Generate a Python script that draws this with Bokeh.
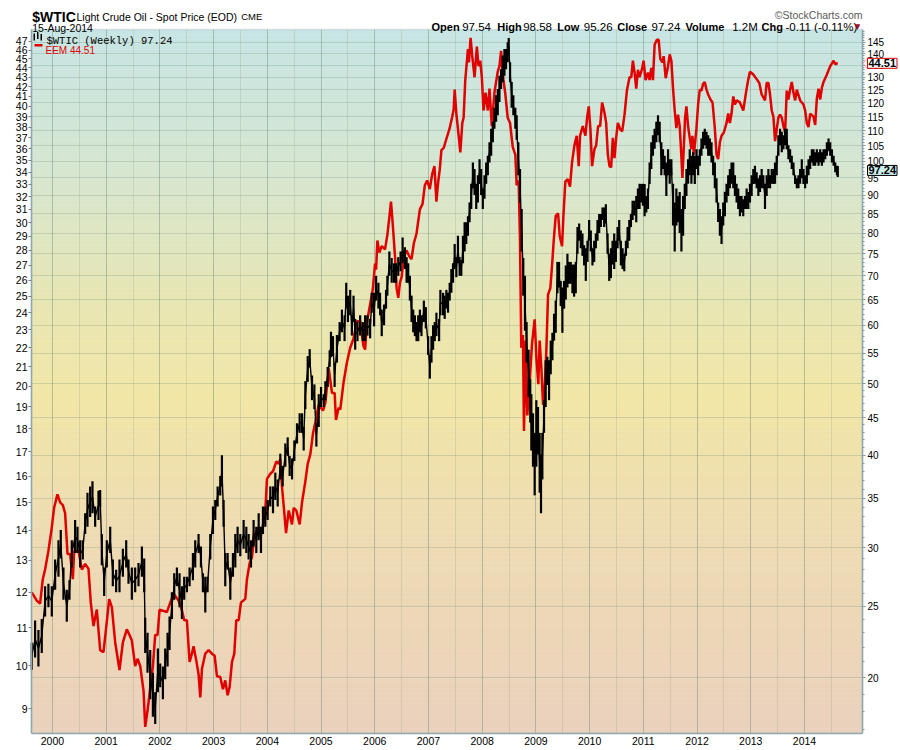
import numpy as np
from bokeh.plotting import figure
from bokeh.models import (Range1d, LogScale, LogAxis, FixedTicker, PrintfTickFormatter,
                          Label, Grid, BoxAnnotation, PolyAnnotation)
from bokeh.embed import file_html
from bokeh.resources import INLINE

# ---------------- data ----------------
# EEM (left axis, red line): decimal year, value
eem_t = [
    1999.615, 1999.708, 1999.770, 1999.820, 1999.863, 1999.925, 1999.988,
    2000.031, 2000.093, 2000.143, 2000.193, 2000.236, 2000.280, 2000.329, 2000.379, 2000.404, 2000.484, 2000.547, 2000.609, 2000.671, 2000.714, 2000.764, 2000.826, 2000.888, 2000.950,
    2001.000, 2001.056, 2001.106, 2001.168, 2001.248, 2001.311, 2001.385, 2001.435, 2001.478, 2001.540, 2001.584, 2001.634, 2001.696, 2001.727, 2001.770, 2001.807, 2001.870, 2001.913, 2001.957, 2001.994,
    2002.130, 2002.193, 2002.255, 2002.348, 2002.410, 2002.453, 2002.503, 2002.553, 2002.596, 2002.627, 2002.677, 2002.720, 2002.752, 2002.783, 2002.845, 2002.907, 2002.969,
    2003.019, 2003.062, 2003.124, 2003.174, 2003.217, 2003.261, 2003.298, 2003.342, 2003.385, 2003.422, 2003.466, 2003.509, 2003.590, 2003.621, 2003.671, 2003.714, 2003.758, 2003.839, 2003.901, 2003.963, 2003.994,
    2004.056, 2004.106, 2004.168, 2004.211, 2004.242, 2004.273, 2004.317, 2004.348, 2004.398, 2004.460, 2004.491, 2004.540, 2004.602, 2004.646, 2004.708, 2004.752, 2004.801, 2004.851, 2004.894, 2004.957,
    2005.037, 2005.081, 2005.143, 2005.204, 2005.253, 2005.278, 2005.327, 2005.358, 2005.420, 2005.481, 2005.543, 2005.605, 2005.667, 2005.728, 2005.790, 2005.821, 2005.852, 2005.914, 2005.963,
    2006.006, 2006.025, 2006.049, 2006.086, 2006.130, 2006.191, 2006.235, 2006.272, 2006.302, 2006.333, 2006.377, 2006.407, 2006.438, 2006.469, 2006.500, 2006.543, 2006.593, 2006.642, 2006.685, 2006.728, 2006.778, 2006.840, 2006.889, 2006.932, 2006.975,
    2007.025, 2007.068, 2007.111, 2007.148, 2007.179, 2007.210, 2007.241, 2007.284, 2007.333, 2007.395, 2007.438, 2007.469, 2007.488, 2007.519, 2007.562, 2007.593, 2007.630, 2007.654, 2007.685, 2007.735, 2007.753, 2007.784, 2007.815, 2007.858, 2007.901, 2007.932, 2007.963, 2007.994,
    2008.025, 2008.062, 2008.105, 2008.136, 2008.179, 2008.228, 2008.290, 2008.321, 2008.352, 2008.370, 2008.395, 2008.432, 2008.475, 2008.519, 2008.568, 2008.617, 2008.642, 2008.679, 2008.704, 2008.728, 2008.759, 2008.778, 2008.809, 2008.840, 2008.884, 2008.927, 2008.977,
    2009.008, 2009.045, 2009.070, 2009.101, 2009.133, 2009.164, 2009.195, 2009.226, 2009.269, 2009.307, 2009.332, 2009.369, 2009.413, 2009.444, 2009.487, 2009.511, 2009.548, 2009.592, 2009.635, 2009.672, 2009.716, 2009.760, 2009.797, 2009.822, 2009.872, 2009.922, 2009.953, 2009.984,
    2010.015, 2010.046, 2010.090, 2010.121, 2010.158, 2010.196, 2010.233, 2010.276, 2010.308, 2010.339, 2010.370, 2010.401, 2010.432, 2010.463, 2010.494, 2010.526, 2010.569, 2010.606, 2010.650, 2010.694, 2010.743, 2010.775, 2010.806, 2010.837, 2010.868, 2010.899, 2010.930, 2010.980,
    2011.005, 2011.042, 2011.086, 2011.117, 2011.148, 2011.179, 2011.210, 2011.254, 2011.285, 2011.316, 2011.354, 2011.379, 2011.416, 2011.460, 2011.491, 2011.522, 2011.553, 2011.584, 2011.615, 2011.646, 2011.677, 2011.709, 2011.727, 2011.752, 2011.777, 2011.802, 2011.833, 2011.864, 2011.895, 2011.914, 2011.939, 2011.964, 2011.989,
    2012.020, 2012.051, 2012.082, 2012.113, 2012.144, 2012.176, 2012.207, 2012.250, 2012.288, 2012.331, 2012.362, 2012.393, 2012.425, 2012.456, 2012.499, 2012.549, 2012.580, 2012.611, 2012.642, 2012.674, 2012.705, 2012.736, 2012.798, 2012.860, 2012.892, 2012.923, 2012.954, 2012.985,
    2013.047, 2013.110, 2013.159, 2013.203, 2013.265, 2013.296, 2013.328, 2013.359, 2013.390, 2013.421, 2013.452, 2013.483, 2013.514, 2013.545, 2013.577, 2013.608, 2013.639, 2013.670, 2013.701, 2013.732, 2013.763, 2013.795, 2013.826, 2013.857, 2013.919, 2013.981,
    2014.012, 2014.044, 2014.075, 2014.106, 2014.168, 2014.199, 2014.230, 2014.262, 2014.293, 2014.324, 2014.355, 2014.386, 2014.417, 2014.479, 2014.542, 2014.573, 2014.604, 2014.620,
]
eem_v = [
    12.0, 11.76, 11.67, 12.4, 12.7, 13.3, 14.1,
    14.8, 15.3, 15.0, 14.9, 14.6, 13.2, 13.2, 12.4, 13.3, 13.3, 12.7, 12.88, 12.72, 11.7, 11.04, 11.5, 10.4, 10.35,
    11.0, 11.8, 11.57, 10.6, 9.9, 10.6, 10.95, 10.8, 10.65, 10.0, 10.18, 10.0, 9.4, 8.6, 8.95, 9.33, 10.0, 10.8, 10.8, 11.5,
    11.43, 11.7, 11.96, 11.76, 11.48, 11.2, 11.2, 10.1, 10.31, 10.5, 10.14, 9.8, 9.25, 9.93, 10.31, 10.4, 10.31,
    10.26, 9.75, 9.73, 9.44, 9.65, 9.3, 9.49, 10.1, 10.31, 11.2, 11.2, 11.7, 11.81, 12.4, 12.9, 13.1, 13.8, 14.1, 13.88, 14.7, 15.9,
    16.1, 16.2, 16.6, 16.5, 16.7, 15.6, 14.6, 13.9, 14.7, 14.2, 14.8, 14.7, 14.2, 15.0, 15.8, 16.5, 16.9, 17.8, 18.3, 19.1,
    18.83, 19.2, 20.9, 19.67, 19.67, 18.4, 18.96, 18.88, 20.2, 21.2, 22.0, 22.5, 23.5, 23.5, 22.1, 21.9, 23.4, 24.5, 25.4,
    27.1, 26.7, 28.7, 27.85, 28.3, 28.07, 29.1, 30.4, 31.6, 30.0, 27.6, 25.5, 24.9, 25.85, 26.2, 27.6, 28.0, 27.6, 27.4, 28.5, 29.2, 31.0, 31.4, 32.9, 33.3,
    32.6, 33.8, 34.5, 31.6, 33.1, 34.2, 35.9, 36.1, 36.9, 37.9, 38.9, 39.7, 41.7, 39.3, 37.2, 35.7, 38.4, 38.9, 42.7, 46.1, 44.6, 47.4, 45.3, 43.0, 46.4, 44.2, 44.8, 43.0,
    39.6, 41.4, 39.6, 41.8, 38.1, 41.4, 43.6, 44.2, 45.9, 44.2, 42.8, 41.2, 38.9, 38.4, 36.2, 35.5, 32.9, 33.3, 28.7, 22.0, 22.7, 17.9, 22.4, 18.6, 20.2, 22.2, 23.6,
    21.5, 20.1, 22.4, 20.97, 19.1, 19.96, 21.9, 25.1, 25.5, 27.3, 28.7, 30.5, 30.7, 29.0, 28.3, 30.4, 33.2, 33.4, 32.8, 34.8, 36.3, 37.2, 34.5, 37.2, 38.1, 37.2, 38.9, 40.0,
    37.8, 34.5, 36.0, 36.3, 38.1, 38.1, 40.4, 39.4, 38.4, 35.5, 34.5, 34.4, 37.0, 35.2, 37.0, 38.4, 37.8, 37.6, 39.2, 41.6, 43.0, 43.0, 44.8, 43.5, 41.8, 43.8, 43.0, 44.0,
    44.8, 42.7, 43.5, 42.7, 44.0, 42.7, 46.6, 47.2, 47.2, 45.0, 44.6, 45.3, 42.9, 44.2, 45.5, 44.8, 41.8, 39.6, 37.9, 39.2, 38.1, 35.3, 33.5, 36.0, 38.9, 40.0, 38.1, 37.0, 36.0, 37.2, 35.5, 36.6, 37.9,
    40.2, 41.7, 41.6, 42.3, 42.5, 41.7, 41.2, 40.7, 40.4, 37.9, 35.5, 35.1, 36.6, 37.2, 37.5, 38.4, 39.3, 38.4, 39.3, 41.0, 40.2, 40.6, 40.4, 39.6, 40.7, 41.8, 42.8, 43.6,
    43.3, 42.8, 42.4, 41.2, 40.6, 42.4, 42.4, 41.2, 39.6, 39.0, 36.7, 37.8, 38.9, 39.2, 38.9, 38.1, 37.5, 41.6, 40.7, 41.7, 42.5, 41.4, 40.6, 41.7, 40.6, 40.2,
    39.6, 38.4, 38.0, 39.3, 39.0, 38.2, 40.8, 41.8, 40.7, 41.9, 42.5, 42.9, 43.3, 44.2, 44.8, 44.4, 44.5, 44.51,
]

# $WTIC weekly (right axis, black bars): decimal year, low, high
wti_t = [
    1999.615, 1999.677, 1999.739, 1999.801, 1999.863, 1999.925, 1999.988,
    2000.050, 2000.112, 2000.155, 2000.205, 2000.267, 2000.317, 2000.360, 2000.422, 2000.466, 2000.516, 2000.565, 2000.609, 2000.652, 2000.702, 2000.745, 2000.795, 2000.857, 2000.888, 2000.919, 2000.963,
    2001.012, 2001.075, 2001.124, 2001.186, 2001.248, 2001.311, 2001.373, 2001.416, 2001.478, 2001.540, 2001.602, 2001.665, 2001.708, 2001.727, 2001.770, 2001.820, 2001.870, 2001.913, 2001.963,
    2002.006, 2002.056, 2002.099, 2002.143, 2002.180, 2002.224, 2002.267, 2002.317, 2002.366, 2002.410, 2002.453, 2002.503, 2002.553, 2002.615, 2002.658, 2002.720, 2002.764, 2002.801, 2002.845, 2002.888, 2002.938, 2002.988,
    2003.031, 2003.075, 2003.124, 2003.155, 2003.186, 2003.217, 2003.261, 2003.311, 2003.360, 2003.404, 2003.447, 2003.497, 2003.559, 2003.609, 2003.652, 2003.696, 2003.745, 2003.795, 2003.839, 2003.882, 2003.919, 2003.963,
    2004.006, 2004.056, 2004.106, 2004.149, 2004.193, 2004.242, 2004.286, 2004.335, 2004.379, 2004.416, 2004.460, 2004.503, 2004.553, 2004.602, 2004.646, 2004.677, 2004.708, 2004.752, 2004.789, 2004.832, 2004.876, 2004.913, 2004.957,
    2005.000, 2005.050, 2005.081, 2005.124, 2005.161, 2005.185, 2005.222, 2005.253, 2005.296, 2005.346, 2005.389, 2005.438, 2005.469, 2005.500, 2005.543, 2005.574, 2005.605, 2005.636, 2005.679, 2005.728, 2005.778, 2005.821, 2005.864, 2005.914, 2005.944, 2005.988,
    2006.025, 2006.068, 2006.099, 2006.130, 2006.173, 2006.210, 2006.235, 2006.272, 2006.315, 2006.358, 2006.395, 2006.438, 2006.481, 2006.519, 2006.562, 2006.593, 2006.623, 2006.654, 2006.685, 2006.716, 2006.747, 2006.778, 2006.809, 2006.840, 2006.870, 2006.914, 2006.951, 2006.994,
    2007.025, 2007.056, 2007.086, 2007.117, 2007.148, 2007.198, 2007.222, 2007.272, 2007.302, 2007.333, 2007.364, 2007.395, 2007.426, 2007.457, 2007.488, 2007.519, 2007.549, 2007.580, 2007.611, 2007.642, 2007.673, 2007.704, 2007.735, 2007.765, 2007.796, 2007.827, 2007.858, 2007.889, 2007.920, 2007.951, 2007.981,
    2008.012, 2008.043, 2008.074, 2008.105, 2008.136, 2008.167, 2008.198, 2008.228, 2008.259, 2008.290, 2008.321, 2008.352, 2008.383, 2008.414, 2008.444, 2008.475, 2008.494, 2008.519, 2008.549, 2008.580, 2008.617, 2008.642, 2008.673, 2008.704, 2008.735, 2008.765, 2008.796, 2008.827, 2008.864, 2008.895, 2008.915, 2008.946, 2008.977,
    2009.008, 2009.039, 2009.070, 2009.095, 2009.120, 2009.151, 2009.182, 2009.213, 2009.245, 2009.276, 2009.307, 2009.338, 2009.369, 2009.400, 2009.431, 2009.462, 2009.493, 2009.525, 2009.556, 2009.587, 2009.618, 2009.649, 2009.680, 2009.711, 2009.742, 2009.774, 2009.805, 2009.836, 2009.867, 2009.898, 2009.929, 2009.960, 2009.991,
    2010.022, 2010.053, 2010.085, 2010.116, 2010.147, 2010.178, 2010.209, 2010.240, 2010.271, 2010.302, 2010.334, 2010.365, 2010.396, 2010.427, 2010.458, 2010.489, 2010.520, 2010.551, 2010.582, 2010.614, 2010.645, 2010.676, 2010.707, 2010.738, 2010.769, 2010.800, 2010.831, 2010.868, 2010.899, 2010.930, 2010.961, 2010.993,
    2011.024, 2011.055, 2011.086, 2011.117, 2011.148, 2011.179, 2011.210, 2011.242, 2011.273, 2011.304, 2011.335, 2011.366, 2011.397, 2011.428, 2011.460, 2011.491, 2011.522, 2011.553, 2011.584, 2011.615, 2011.646, 2011.677, 2011.709, 2011.740, 2011.771, 2011.802, 2011.833, 2011.864, 2011.895, 2011.927, 2011.958, 2011.989,
    2012.020, 2012.051, 2012.082, 2012.113, 2012.144, 2012.176, 2012.207, 2012.238, 2012.269, 2012.300, 2012.331, 2012.362, 2012.393, 2012.425, 2012.456, 2012.487, 2012.518, 2012.549, 2012.580, 2012.611, 2012.642, 2012.674, 2012.705, 2012.736, 2012.767, 2012.798, 2012.829, 2012.860, 2012.892, 2012.923, 2012.954, 2012.985,
    2013.016, 2013.047, 2013.078, 2013.110, 2013.141, 2013.172, 2013.203, 2013.234, 2013.265, 2013.296, 2013.328, 2013.359, 2013.390, 2013.421, 2013.452, 2013.483, 2013.514, 2013.545, 2013.577, 2013.608, 2013.639, 2013.670, 2013.701, 2013.732, 2013.763, 2013.795, 2013.826, 2013.857, 2013.888, 2013.919, 2013.950, 2013.981,
    2014.012, 2014.044, 2014.075, 2014.106, 2014.137, 2014.168, 2014.199, 2014.230, 2014.262, 2014.293, 2014.324, 2014.355, 2014.386, 2014.417, 2014.448, 2014.479, 2014.511, 2014.542, 2014.573, 2014.604, 2014.620,
]
wti_lo = [
    20.5, 21.3, 20.7, 21.6, 24.2, 24.9, 24.2,
    26.3, 27.4, 29.0, 25.5, 23.8, 25.5, 28.2, 29.5, 29.5, 28.2, 28.9, 31.3, 32.0, 33.0, 33.4, 32.0, 32.7, 34.1, 28.4, 25.8,
    28.2, 29.5, 26.6, 26.1, 26.1, 27.4, 28.2, 26.8, 25.5, 26.1, 26.6, 27.4, 26.1, 21.6, 20.3, 18.7, 17.7, 17.3, 19.1,
    19.4, 18.7, 19.9, 20.7, 21.8, 24.0, 25.5, 26.6, 24.9, 24.0, 25.5, 26.1, 26.6, 27.1, 28.2, 29.5, 28.2, 26.1, 24.5, 26.1, 28.9, 31.3,
    32.7, 34.1, 35.3, 36.3, 32.0, 26.6, 28.0, 25.5, 27.4, 28.2, 29.5, 29.2, 29.9, 29.5, 28.9, 28.2, 30.1, 29.5, 30.7, 29.5, 31.3, 32.0,
    32.7, 34.1, 33.4, 34.8, 34.1, 37.1, 36.3, 38.6, 39.9, 37.5, 37.1, 39.3, 41.5, 42.9, 42.9, 40.6, 46.2, 50.3, 52.6, 47.5, 46.2, 41.1, 43.7,
    46.5, 46.5, 47.5, 49.5, 52.7, 54.3, 54.5, 49.5, 53.4, 57.1, 58.7, 57.1, 63.2, 60.6, 61.9, 58.1, 60.6, 55.6, 57.1, 58.1, 57.1, 57.1, 58.1, 57.6, 62.4, 59.8,
    64.8, 63.2, 61.9, 58.0, 60.0, 63.2, 65.8, 70.0, 68.5, 68.5, 68.5, 70.0, 71.0, 72.8, 71.5, 68.5, 68.5, 64.8, 60.6, 58.7, 58.0, 57.1, 57.1, 58.7, 58.0, 60.6, 59.4, 54.7,
    50.8, 53.4, 55.6, 57.1, 58.0, 57.1, 61.9, 61.9, 61.2, 63.2, 62.4, 64.8, 66.4, 68.5, 71.5, 69.7, 72.8, 70.0, 70.0, 72.8, 75.5, 77.3, 79.3, 82.7, 86.2, 92.0, 90.1, 86.2, 88.0, 93.2, 90.1,
    86.2, 89.0, 93.3, 95.8, 99.7, 101.8, 106.2, 110.7, 113.2, 115.5, 120.4, 125.3, 128.0, 130.6, 133.3, 136.3, 139.1, 128.0, 118.2, 115.5, 110.7, 107.0, 95.8, 88.0, 75.5, 65.8, 59.0, 53.4, 48.0, 44.3, 40.6, 38.6, 35.3,
    38.6, 40.1, 35.6, 33.4, 37.1, 42.9, 46.5, 49.8, 47.5, 51.5, 53.8, 57.2, 58.6, 66.3, 67.5, 63.7, 58.6, 63.2, 65.0, 67.5, 68.3, 68.3, 66.3, 65.6, 66.3, 75.0, 78.1, 76.3, 74.5, 72.3, 68.9, 73.1, 78.1,
    75.5, 72.3, 73.1, 76.3, 78.1, 80.0, 81.5, 83.3, 81.5, 82.4, 75.0, 68.9, 69.5, 72.5, 71.5, 73.1, 76.3, 78.1, 72.3, 71.5, 71.0, 74.5, 76.3, 78.1, 81.5, 83.3, 84.5, 82.7, 86.2, 86.2, 88.0, 87.1,
    84.3, 85.3, 86.2, 93.2, 97.7, 101.8, 104.0, 106.2, 108.5, 106.2, 95.8, 97.7, 95.8, 89.8, 95.8, 93.3, 95.8, 81.9, 75.5, 81.9, 82.7, 80.0, 75.5, 79.3, 86.2, 89.8, 93.3, 95.8, 93.3, 95.8, 93.2, 97.7,
    95.8, 98.7, 101.8, 104.0, 105.2, 104.0, 101.8, 101.8, 99.7, 95.8, 92.0, 88.0, 82.8, 79.3, 77.3, 81.9, 84.3, 88.0, 89.8, 92.0, 93.3, 92.0, 89.8, 88.0, 86.2, 84.3, 85.3, 84.3, 86.2, 86.2, 86.2, 88.0,
    89.8, 93.2, 93.3, 92.0, 89.8, 90.9, 92.0, 92.0, 86.2, 89.8, 92.0, 92.0, 93.3, 93.2, 93.3, 95.8, 101.8, 105.2, 102.9, 103.9, 105.2, 103.9, 100.7, 99.7, 97.7, 95.8, 93.2, 92.0, 92.0, 93.3, 94.9, 93.2,
    92.0, 93.3, 95.8, 97.7, 99.7, 98.7, 98.7, 99.7, 98.7, 99.7, 98.7, 99.7, 100.7, 101.8, 103.2, 101.8, 99.7, 98.7, 96.7, 95.8, 95.26,
]
wti_hi = [
    22.3, 23.9, 23.2, 24.0, 26.6, 26.8, 26.6,
    28.9, 30.7, 31.7, 28.2, 26.3, 27.1, 30.7, 32.7, 32.0, 30.7, 30.7, 33.4, 35.6, 36.3, 36.9, 34.1, 35.8, 35.9, 31.3, 28.2,
    30.7, 32.0, 28.9, 28.0, 28.9, 29.9, 30.7, 28.9, 28.2, 28.2, 28.6, 30.1, 29.0, 24.1, 23.0, 21.8, 20.3, 19.1, 21.9,
    20.9, 20.7, 21.9, 23.0, 24.2, 26.1, 27.7, 28.2, 27.7, 26.6, 27.4, 27.4, 28.2, 29.5, 30.7, 31.3, 30.1, 27.7, 27.4, 27.4, 31.3, 34.1,
    34.8, 36.3, 37.5, 40.0, 34.8, 29.5, 29.5, 28.2, 29.5, 31.3, 32.0, 31.3, 32.7, 32.0, 31.3, 30.7, 32.7, 32.0, 33.4, 32.0, 34.1, 34.1,
    34.8, 36.3, 36.3, 37.9, 37.1, 40.2, 38.7, 41.5, 42.3, 39.9, 39.6, 41.9, 44.2, 45.6, 45.6, 43.7, 50.4, 54.5, 55.7, 51.3, 49.9, 44.2, 48.4,
    49.5, 48.4, 50.4, 52.7, 55.5, 58.8, 58.0, 53.4, 58.2, 60.6, 63.0, 61.9, 68.5, 65.8, 67.0, 61.9, 65.8, 61.2, 60.6, 61.9, 60.6, 61.9, 61.9, 61.2, 66.4, 66.4,
    70.0, 68.5, 66.4, 63.0, 64.0, 67.0, 70.0, 75.5, 74.0, 72.8, 72.8, 74.2, 75.5, 78.9, 76.5, 74.2, 72.8, 70.0, 65.8, 63.0, 61.9, 60.6, 61.9, 63.0, 61.9, 64.8, 63.5, 58.0,
    54.7, 58.0, 60.0, 60.6, 62.4, 61.2, 67.0, 66.4, 65.8, 67.0, 66.4, 68.5, 71.5, 72.8, 77.3, 74.2, 79.3, 74.2, 73.5, 79.3, 82.7, 82.7, 84.3, 88.0, 93.3, 99.7, 97.7, 93.3, 95.8, 100.7, 97.7,
    91.9, 95.8, 99.7, 101.8, 106.2, 110.7, 113.2, 118.2, 122.9, 125.3, 130.6, 133.3, 139.1, 142.0, 142.0, 145.0, 147.0, 136.3, 128.1, 122.9, 118.2, 115.5, 106.2, 97.7, 86.2, 74.0, 70.0, 60.6, 55.6, 50.7, 48.4, 45.6, 42.9,
    47.5, 46.5, 42.9, 40.1, 42.9, 47.5, 53.8, 54.4, 53.8, 57.2, 58.6, 62.2, 64.8, 73.1, 73.1, 68.9, 67.5, 68.9, 72.3, 75.0, 73.1, 73.1, 72.5, 72.5, 73.1, 81.5, 82.4, 80.6, 79.9, 77.0, 76.3, 78.1, 83.3,
    80.6, 76.3, 78.1, 79.9, 83.3, 84.9, 84.9, 86.6, 86.6, 87.5, 79.9, 75.0, 76.3, 78.1, 79.9, 78.1, 81.5, 83.3, 78.1, 76.3, 75.0, 78.1, 81.5, 83.3, 84.9, 88.5, 88.5, 89.8, 91.9, 93.3, 93.2, 93.3,
    93.2, 89.8, 91.9, 99.7, 106.2, 108.5, 110.7, 113.2, 115.5, 113.2, 106.2, 103.9, 101.8, 99.7, 103.9, 100.7, 100.7, 93.3, 88.0, 91.9, 89.8, 90.9, 86.2, 89.8, 93.3, 97.7, 100.7, 103.9, 101.8, 102.9, 101.8, 103.9,
    101.8, 103.9, 107.4, 109.7, 110.7, 109.7, 108.5, 107.4, 106.2, 101.8, 99.7, 94.9, 88.0, 86.2, 84.3, 88.0, 91.0, 93.3, 95.8, 97.7, 99.7, 99.7, 95.8, 93.3, 91.9, 89.8, 89.8, 88.9, 89.8, 91.9, 90.9, 93.3,
    95.8, 97.7, 98.7, 96.7, 94.9, 95.8, 97.7, 95.8, 93.3, 95.8, 97.7, 95.8, 97.7, 97.7, 99.7, 101.8, 108.5, 110.7, 109.7, 108.5, 110.7, 110.7, 105.2, 103.9, 101.8, 99.7, 95.8, 94.9, 95.8, 97.7, 100.7, 97.7,
    95.8, 98.7, 100.7, 101.8, 103.9, 103.9, 102.9, 103.9, 102.9, 103.9, 102.9, 103.9, 103.9, 106.2, 107.4, 106.2, 103.9, 101.8, 99.7, 98.7, 98.58,
]
wti_close = 97.24
eem_close = 44.51

years = list(range(2000, 2015))
half_years = [y + 0.5 for y in range(1999, 2015)]
eem_ticks = list(range(9, 48))
wti_ticks = list(range(20, 150, 5))
wti_minor = list(range(17, 151))

assert len(eem_t) == len(eem_v)
assert len(wti_t) == len(wti_lo) == len(wti_hi)

# ---------------- layout ----------------
FRAME = "#8fa8ae"
FONT = "Liberation Sans"
X0, X1 = 1999.61, 2015.08    # time extent of the chart box
Y0, Y1 = 8.46, 48.4          # EEM extent of the chart box
W0, W1 = 16.8, 150.9         # WTIC extent of the chart box
FW, FH = 900, 733            # frame covers the whole page except the x-axis strip
BOX_L, BOX_R = 31.0, 862.0   # chart box left / right (px)
HEAD = 29                    # header band height (px) above the chart box
ppy = (BOX_R - BOX_L) / (X1 - X0)
X0e = X0 - BOX_L / ppy
X1e = X1 + (FW - BOX_R) / ppy
ext = FH / (FH - HEAD)
Y1e = Y0 * (Y1 / Y0) ** ext
W1e = W0 * (W1 / W0) ** ext

p = figure(width=900, height=750, x_range=Range1d(X0e, X1e), y_range=Range1d(Y0, Y1e),
           y_axis_type="log", output_backend="svg", toolbar_location=None,
           min_border_left=0, min_border_right=0, min_border_top=0, min_border_bottom=17)
p.extra_y_ranges = {"wti": Range1d(W0, W1e)}
p.extra_y_scales = {"wti": LogScale()}
p.border_fill_color = "white"
p.background_fill_color = "white"
p.outline_line_color = None

# background gradient (teal -> yellow -> peach) inside the chart box
stops_f = [0.0, 0.2, 0.4, 0.52, 0.7, 1.0]
stops_c = [(199, 229, 228), (214, 230, 208), (233, 230, 178), (241, 230, 166), (239, 220, 178), (234, 209, 189)]
N = 140
edges = np.geomspace(Y0, Y1, N + 1)
fr = 1 - (np.arange(N) + 0.5) / N
cols = []
for f in fr:
    rgb = [np.interp(f, stops_f, [c[k] for c in stops_c]) for k in range(3)]
    cols.append("#%02x%02x%02x" % tuple(int(round(v)) for v in rgb))
p.quad(left=X0, right=X1, bottom=edges[:-1], top=edges[1:], fill_color=cols,
       line_color=cols, line_width=0.6, level="image")

# grids
xt = FixedTicker(ticks=years, minor_ticks=half_years)
p.xaxis.ticker = xt
p.xgrid.ticker = xt
p.xgrid.grid_line_color = "#5f806f"
p.xgrid.grid_line_alpha = 0.40
p.xgrid.minor_grid_line_color = "#7f8a6a"
p.xgrid.minor_grid_line_alpha = 0.20
p.ygrid.visible = False
hg = Grid(dimension=1, ticker=FixedTicker(ticks=wti_ticks), y_range_name="wti",
          grid_line_color="#5f806f", grid_line_alpha=0.24)
p.add_layout(hg)

# white margins around the chart box hide the grid lines outside it
p.quad(left=[X0e, X1, X0], right=[X0, X1e, X1], bottom=[Y0, Y0, Y1], top=[Y1e, Y1e, Y1e],
       fill_color="white", line_color=None)
p.add_layout(BoxAnnotation(left=X0, right=X1, bottom=Y0, top=Y1, fill_color=None,
                           line_color=FRAME, line_width=1.5))

# bottom axis
ax = p.xaxis[0]
ax.bounds = (X0, X1)
ax.major_tick_out = 0
ax.major_tick_in = 0
ax.minor_tick_out = 0
ax.minor_tick_in = 0
ax.major_label_standoff = 3
ax.major_label_text_font = FONT
ax.major_label_text_font_size = "10.5px"
ax.major_label_text_color = "black"
ax.axis_line_color = FRAME
ax.axis_line_width = 1.5

# left axis (EEM), pinned to the chart box's left edge
ly = p.yaxis[0]
ly.fixed_location = X0
ly.bounds = (Y0, Y1)
ly.ticker = FixedTicker(ticks=eem_ticks)
ly.formatter = PrintfTickFormatter(format="%d")
ly.major_tick_out = 3
ly.major_tick_in = 0
ly.minor_tick_line_color = None
ly.major_tick_line_color = "#808080"
ly.major_label_standoff = 1
ly.major_label_text_font = FONT
ly.major_label_text_font_size = "10.5px"
ly.major_label_text_color = "black"
ly.axis_line_color = FRAME
ly.axis_line_width = 1.5

# right axis ($WTIC), pinned to the chart box's right edge
ry = LogAxis(y_range_name="wti", bounds=(W0, W1), fixed_location=X1,
             ticker=FixedTicker(ticks=wti_ticks, minor_ticks=wti_minor),
             formatter=PrintfTickFormatter(format="%d"))
ry.major_tick_out = 3
ry.major_tick_in = 0
ry.minor_tick_out = 2
ry.minor_tick_in = 0
ry.major_tick_line_color = "#7f9aa2"
ry.minor_tick_line_color = "#7f9aa2"
ry.major_label_standoff = 2
ry.major_label_text_font = FONT
ry.major_label_text_font_size = "10px"
ry.major_label_text_color = "black"
ry.axis_line_color = FRAME
ry.axis_line_width = 1.5
p.add_layout(ry, "right")

# series
p.line(eem_t, eem_v, line_color="#e00000", line_width=2.5)
wlo = np.array(wti_lo)
whi = np.array(wti_hi)
p.segment(x0=wti_t, y0=wlo, x1=wti_t, y1=whi, y_range_name="wti",
          line_color="black", line_width=2.2)
p.line(wti_t, np.sqrt(wlo * whi), y_range_name="wti", line_color="black", line_width=1.4)


# ---------------- texts ----------------
def lab(x, y, text, size, color="black", bold=False, font=FONT, align="left",
        baseline="alphabetic", **kw):
    p.add_layout(Label(x=x, y=y, x_units="canvas", y_units="canvas", text=text,
                       text_font=font, text_font_size=f"{size}px", text_color=color,
                       text_font_style="bold" if bold else "normal",
                       text_align=align, text_baseline=baseline, **kw))


lab(31.7, 16.5, "$WTIC", 14, bold=True)
lab(76, 16, "Light Crude Oil - Spot Price (EOD)", 10.5)
lab(240.7, 16, "CME", 9.5)
lab(862, 14, "\u00a9StockCharts.com", 10.5, color="#5a5a5a", align="right")

lab(31.7, 27, "15-Aug-2014", 10.5)
row = [(431, "Open", True), (461.7, "97.54", False), (496.7, "High", True), (522.7, "98.58", False),
       (556.7, "Low", True), (583.3, "95.26", False), (616.7, "Close", True), (651, "97.24", False),
       (685, "Volume", True), (731.7, "1.2M", False), (761, "Chg", True), (785, "-0.11 (-0.11%)", False)]
for x, t, b in row:
    lab(x, 26.7, t, 11 if b else 11.5, bold=b)
lab(854, 26, "\u25bc", 7.5, color="#99102a", font="DejaVu Sans")

# legend inside the chart box (small bar icon, red dash)
for l, r, t, b in [(33, 34.5, 33, 40), (36.5, 38, 31.5, 38.5), (40, 41.5, 33.5, 40)]:
    p.add_layout(BoxAnnotation(left=l, right=r, top=t, bottom=b, left_units="canvas",
                               right_units="canvas", top_units="canvas", bottom_units="canvas",
                               fill_color="black", fill_alpha=1, line_color=None))
lab(46, 40, "$WTIC (Weekly) 97.24", 10.5, font="Liberation Mono")
p.add_layout(BoxAnnotation(left=34, right=42, top=43.5, bottom=46, left_units="canvas",
                           right_units="canvas", top_units="canvas", bottom_units="canvas",
                           fill_color="#e00000", fill_alpha=1, line_color=None))
lab(45, 50, "EEM 44.51", 10, color="#e00000")

# last-value tags at the right axis, with a small pointer towards the axis
ppl_eem = (FH - HEAD) / np.log(Y1 / Y0)
ppl_wti = (FH - HEAD) / np.log(W1 / W0)
for yv, txt, bc, bg, rn, ppl in [(eem_close, "44.51", "#e00000", "#f7fbfb", "default", ppl_eem),
                                 (wti_close, "97.24", "black", "#cdeef0", "wti", ppl_wti)]:
    d = np.exp(6.0 / ppl)
    p.add_layout(PolyAnnotation(xs=[862.5, 867.5, 867.5], ys=[yv, yv * d, yv / d],
                                xs_units="canvas", ys_units="data", y_range_name=rn,
                                fill_color=bg, fill_alpha=1, line_color=bc, line_width=1))
    p.add_layout(Label(x=867, x_units="canvas", y=yv, y_units="data", y_range_name=rn,
                       text=txt, text_font=FONT, text_font_size="11px",
                       text_font_style="bold", text_color="black",
                       text_baseline="middle", padding=1,
                       border_line_color=bc, border_line_width=1,
                       background_fill_color=bg))

open("out.html", "w").write(file_html(p, INLINE))
